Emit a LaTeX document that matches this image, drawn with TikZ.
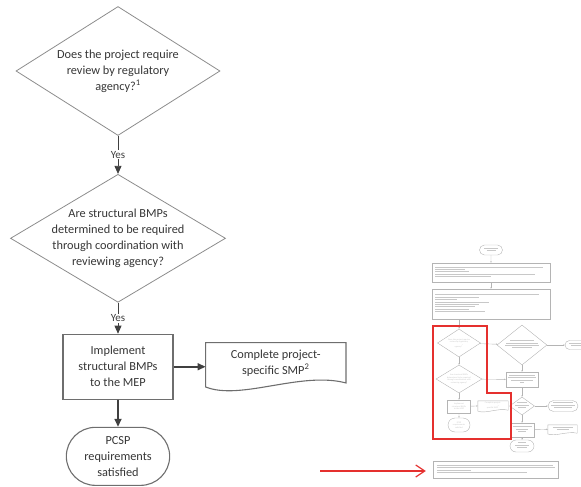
\documentclass[tikz,border=0pt]{standalone}
\usepackage{fontspec}
\setmainfont{Carlito}
\usetikzlibrary{arrows.meta, positioning, shapes.geometric, shapes.misc, calc}
\definecolor{inkgray}{HTML}{363636}
\definecolor{diagray}{HTML}{8C8C8C}
\definecolor{boxgray}{HTML}{6E6E6E}
\definecolor{arrowgray}{HTML}{404040}
\definecolor{thumbline}{HTML}{B4B4B4}
\definecolor{thumbtext}{HTML}{C8C8C8}
\definecolor{markred}{HTML}{E5302E}
% unreadable text lines of the small overview chart
\newcommand{\blurc}[2]{\vbox{\offinterlineskip\hsize=#1pt%
  \foreach \w in {#2}{\hbox to \hsize{\hss\vrule width \w pt height .5pt\hss}\vskip 1.9pt}}}
\newcommand{\blurl}[2]{\vbox{\offinterlineskip\hsize=#1pt%
  \foreach \w in {#2}{\hbox to \hsize{\vrule width \w pt height .5pt\hss}\vskip 1.9pt}}}
% document outline with a wavy bottom edge
\newcommand{\docoutline}[3]{%
  \draw[#2] (#1.north west) -- (#1.north east) -- (#1.south east)
    .. controls ($(#1.south east)!0.32!(#1.south west)+(0,3*#3)$)
           and ($(#1.south east)!0.75!(#1.south west)+(0,-4.5*#3)$)
    .. ([yshift=-#3]#1.south west) -- cycle;}

\begin{document}
\begin{tikzpicture}[
    x=1pt, y=1pt,
    font=\fontsize{12.3}{16}\selectfont, text=inkgray,
    decision/.style={diamond, draw=diagray, line width=0.8pt, inner sep=-20pt, align=center},
    process/.style={draw=boxgray, line width=1.1pt, align=center, minimum width=110pt, minimum height=65pt},
    terminal/.style={rounded rectangle, draw=boxgray, line width=1.1pt, align=center,
                     minimum width=110pt, minimum height=58pt},
    docnode/.style={align=center, minimum width=140pt, minimum height=40pt},
    arr/.style={-{Triangle[length=8pt, width=7pt]}, line width=0.8pt, arrowgray},
    heavy/.style={arr, line width=1.6pt},
    yes/.style={fill=white, inner sep=1pt, font=\fontsize{11}{12}\selectfont},
    tbox/.style={draw=thumbline, line width=0.4pt, inner sep=0pt, align=center,
                 text=thumbtext, font=\fontsize{2.2}{2.7}\selectfont},
    tdia/.style={tbox, diamond, inner sep=-20pt},
    tterm/.style={tbox, rounded rectangle},
    tarr/.style={-{Stealth[length=1.6pt, width=1.4pt]}, line width=0.4pt, thumbline},
    redline/.style={markred, line width=1.2pt},
    redarr/.style={-{Straight Barb[length=9pt, width=12pt]}, markred, line width=1.2pt},
]
\useasboundingbox (0,0) rectangle (581,-487);

% Enlarged part of the chart
\node[decision, minimum width=204pt, minimum height=129pt] (q1) at (118,-71)
  {Does the project require\\review by regulatory\\agency?\textsuperscript{1}};
\node[decision, minimum width=215pt, minimum height=128pt, below=38pt of q1] (q2)
  {Are structural BMPs\\determined to be required\\through coordination with\\reviewing agency?};
\node[process, below=31pt of q2] (impl) {Implement\\structural BMPs\\to the MEP};
\node[terminal, below=27pt of impl] (term) {PCSP\\requirements\\satisfied};
\node[docnode, right=32pt of impl, yshift=4pt] (doc) {Complete project-\\specific SMP\textsuperscript{2}};
\docoutline{doc}{draw=boxgray, line width=1.1pt}{4pt}

\draw[arr] (q1) -- node[yes] {Yes} (q2);
\draw[arr] (q2) -- node[yes] {Yes} (impl);
\draw[heavy] (impl) -- (term);
\draw[heavy] (impl.east) -- (impl.east -| doc.west);

% Overview of the whole chart
\node[tterm, minimum width=23pt, minimum height=10pt] (st) at (491,-250) {\blurc{14}{14,9}};
\node[tbox, minimum width=118pt, minimum height=19pt] (b1) at (491,-272.5) {\blurl{112}{108,30,34,100,56}};
\node[tbox, minimum width=118pt, minimum height=30pt] (b2) at (491,-304) {\blurl{112}{104,44,22,54,44,40,34,50}};
\node[tdia, minimum width=43pt, minimum height=28pt] (qa) at (459,-343)
  {Does the project require\\review by regulatory\\agency?\textsuperscript{1}};
\node[tdia, minimum width=50pt, minimum height=40pt] (qb) at (522,-345) {\blurc{34}{24,32,34,20}};
\node[tterm, minimum width=22pt, minimum height=9pt] (tr) at (576,-345) {\blurc{16}{14,10}};
\node[tdia, minimum width=46pt, minimum height=28pt] (qc) at (459,-379)
  {Are structural BMPs\\determined to be required\\through coordination with\\reviewing agency?};
\node[tbox, minimum width=32pt, minimum height=15pt] (bc) at (522,-379.5) {\blurc{28}{26,28,22,4}};
\node[tbox, minimum width=23pt, minimum height=13pt] (im) at (459,-406.5) {Implement\\structural BMPs\\to the MEP};
\node[tbox, draw=none, minimum width=30pt, minimum height=9pt] (dc) at (493,-405.5)
  {Complete project-\\specific SMP\textsuperscript{2}};
\docoutline{dc}{draw=thumbline, line width=0.4pt}{0.9pt}
\node[tterm, minimum width=22pt, minimum height=14pt] (pc) at (459,-425) {PCSP\\requirements\\satisfied};
\node[tdia, minimum width=25pt, minimum height=18pt] (qd) at (522,-406) {\blurc{14}{10,14,8}};
\node[tterm, minimum width=30pt, minimum height=11pt] (tr2) at (563,-406) {\blurc{24}{20,24,18}};
\node[tbox, minimum width=24pt, minimum height=14pt] (bp) at (522,-430) {\blurc{20}{19,12,8}};
\node[tbox, draw=none, minimum width=29pt, minimum height=8pt] (dp) at (562.5,-429) {\blurc{22}{20,12}};
\docoutline{dp}{draw=thumbline, line width=0.4pt}{0.8pt}
\node[tterm, minimum width=24pt, minimum height=12pt] (tb) at (522,-446) {\blurc{14}{8,14,10}};
\node[tbox, minimum width=125pt, minimum height=17pt] (note) at (495.5,-469.5) {\blurl{118}{116,118,34,90}};

\draw[tarr] (st) -- (b1);
\draw[tarr] (b1) -- (b2);
\draw[tarr] (qa |- b2.south) -- (qa);
\draw[tarr] (qa) -- (qb);
\draw[tarr] (qb) -- (tr);
\draw[tarr] (qa) -- (qc);
\draw[tarr] (qb) -- (bc);
\draw[tarr] (qc) -- (bc);
\draw[tarr] (qc) -- (im);
\draw[tarr] (im) -- (dc);
\draw[tarr] (im) -- (pc);
\draw[tarr] (bc) -- (qd);
\draw[tarr] (qd) -- (tr2);
\draw[tarr] (qd) -- (bp);
\draw[tarr] (bp) -- (dp);
\draw[tarr] (bp) -- (tb);

% Highlight of the enlarged part
\draw[redline] (433,-326) -- (487,-326) -- (487,-393) -- (511,-393) -- (511,-439) -- (433,-439) -- cycle;
\coordinate (pointer) at (320,-471);
\draw[redarr] (pointer) -- ([xshift=-7pt]pointer -| note.west);
\end{tikzpicture}
\end{document}
